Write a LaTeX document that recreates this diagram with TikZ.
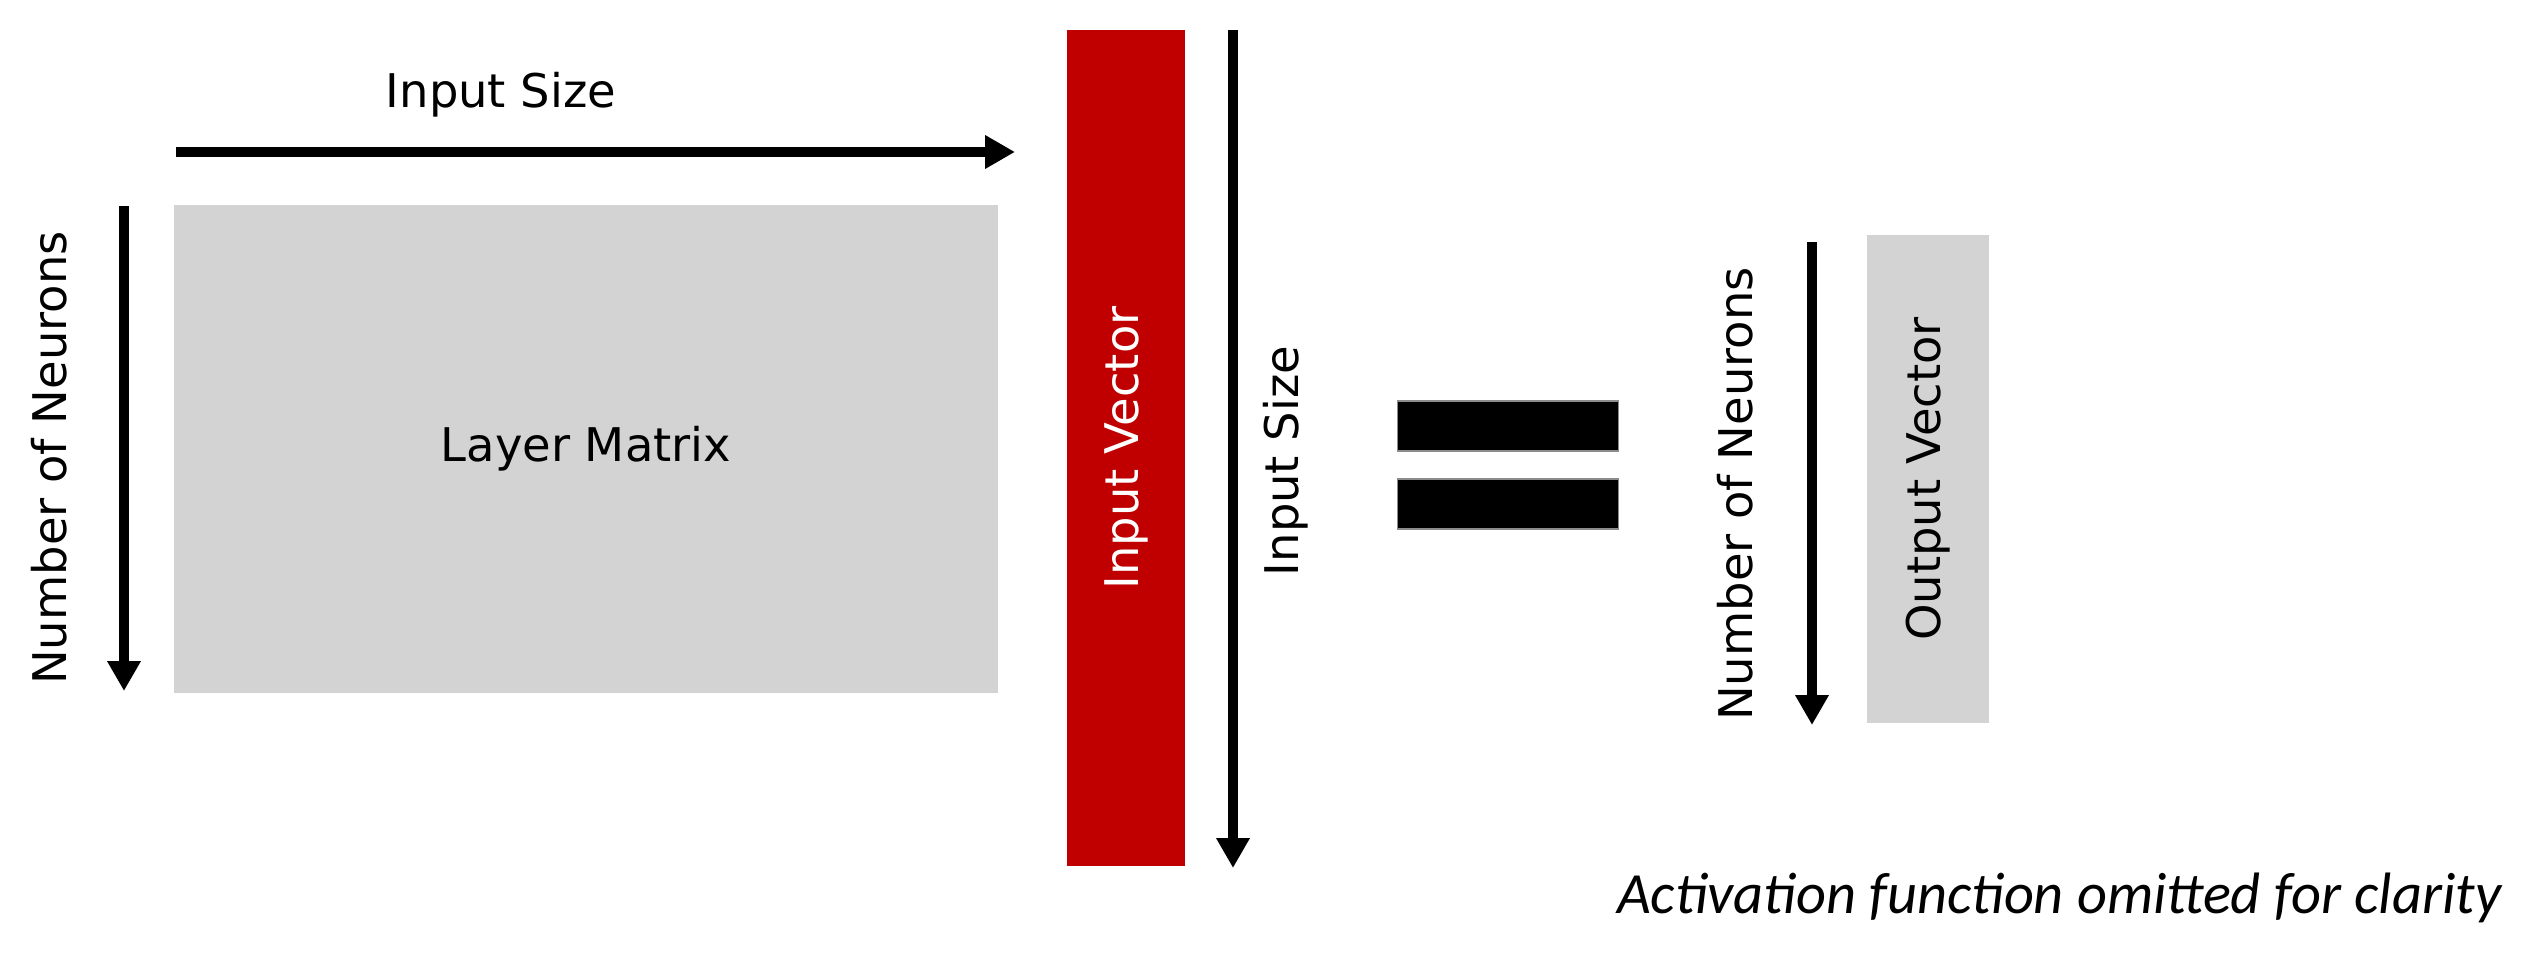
\documentclass[tikz,border=0pt]{standalone}
\usepackage{fontspec}
\setmainfont{DejaVu Sans}
\newfontfamily\notefont{Carlito}
\usetikzlibrary{arrows.meta}
\definecolor{matgray}{HTML}{D3D3D3}
\definecolor{vecred}{HTML}{C00000}

\tikzset{
  dimarrow/.style={line width=2.6pt, -{Triangle[length=8.5pt,width=9pt]}},
  lbl/.style={font=\fontsize{13.2}{15}\selectfont, inner sep=0pt},
  vlbl/.style={lbl, rotate=90, anchor=base},
  eqbar/.style={fill=black, draw=black!45, line width=0.5pt, minimum width=2.21cm, minimum height=0.5cm, inner sep=0pt},
}

\begin{document}
\begin{tikzpicture}[x=0.01cm, y=-0.01cm]
  \useasboundingbox (0,0) rectangle (2532,955);

  % Layer matrix
  \node[fill=matgray, minimum width=8.24cm, minimum height=4.88cm, lbl] (layer) at (586,449) {Layer Matrix};

  % Input vector
  \node[fill=vecred, text=white, rotate=90, minimum width=8.36cm, minimum height=1.18cm, lbl] (invec) at (1126,448) {Input Vector};

  % Output vector
  \node[fill=matgray, rotate=90, minimum width=4.87cm, minimum height=1.21cm, lbl] (outvec) at (1928,479) {Output Vector};

  % Equals sign
  \node[eqbar] (eqtop) at (1508,426) {};
  \node[eqbar] (eqbot) at (1508,504) {};

  % Input size, across the matrix
  \coordinate (topA) at (176,152);
  \coordinate (topB) at (1015,152);
  \draw[dimarrow] (topA) -- (topB);
  \node[lbl, anchor=base] (topsize) at (501,108) {Input Size};

  % Number of neurons, down the matrix
  \coordinate (leftA) at (124,206);
  \coordinate (leftB) at (124,691);
  \draw[dimarrow] (leftA) -- (leftB);
  \node[vlbl] (leftneur) at (66,458) {Number of Neurons};

  % Input size, down the input vector
  \coordinate (inA) at (1233,30);
  \coordinate (inB) at (1233,868);
  \draw[dimarrow] (inA) -- (inB);
  \node[vlbl] (insize) at (1298,461) {Input Size};

  % Number of neurons, down the output vector
  \coordinate (outA) at (1812,242);
  \coordinate (outB) at (1812,725);
  \draw[dimarrow] (outA) -- (outB);
  \node[vlbl] (rightneur) at (1752,494) {Number of Neurons};

  % Note
  \node[anchor=base east, font=\notefont\itshape\fontsize{16.6}{19}\selectfont, inner sep=0pt] (note) at (2502,913) {Activation function omitted for clarity};
\end{tikzpicture}
\end{document}
